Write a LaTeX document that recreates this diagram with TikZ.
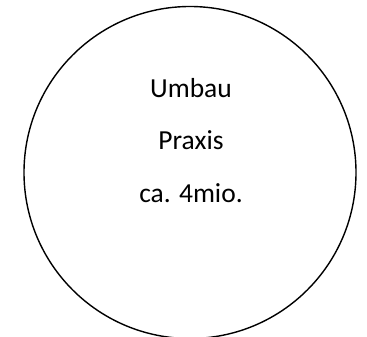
\documentclass[tikz,border=0pt]{standalone}
\usepackage{fontspec}
\setmainfont{Carlito}
\begin{document}
\begin{tikzpicture}[x=1pt,y=-1pt,
  label text/.style={anchor=base,inner sep=0pt,font=\fontsize{27.5}{33}\selectfont}]
\useasboundingbox (0,0) rectangle (367,337);
\draw[line width=1.4pt] (190,172.5) circle[radius=166];
\node[label text] (l1) at (191,97.3) {Umbau};
\node[label text] (l2) at (191,149.5) {Praxis};
\node[label text] (l3) at (191,202.7) {ca. 4mio.};
\end{tikzpicture}
\end{document}
